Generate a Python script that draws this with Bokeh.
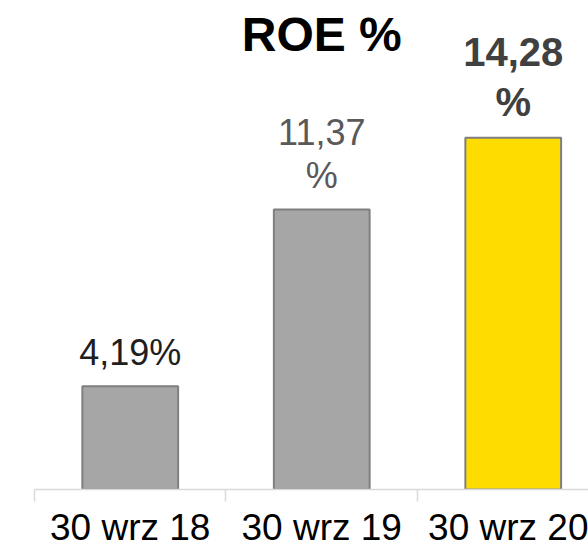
from bokeh.plotting import figure
from bokeh.models import Range1d, FixedTicker, Label
from bokeh.core.properties import value
from bokeh.embed import file_html
from bokeh.resources import INLINE

# data
categories = ["30 wrz 18", "30 wrz 19", "30 wrz 20"]
roe = [4.19, 11.37, 14.28]
bar_labels = ["4,19%", "11,37\n%", "14,28\n%"]
bar_colors = ["#a6a6a6", "#a6a6a6", "#ffdc00"]
label_colors = ["#1e1e1e", "#595959", "#404040"]
title_text = "ROE %"

FONT = "Liberation Sans"

xs = list(range(len(categories)))

p = figure(width=588, height=550, output_backend="svg", toolbar_location=None,
           x_range=Range1d(-0.6775, 2.393), y_range=Range1d(0, 19.85),
           min_border_left=0, min_border_right=0, min_border_top=0,
           min_border_bottom=0)
p.outline_line_color = None
p.background_fill_color = "white"
p.border_fill_color = "white"
p.grid.visible = False
p.yaxis.visible = False

ax = p.xaxis[0]
ax.ticker = FixedTicker(ticks=xs, minor_ticks=[x - 0.5 for x in xs] + [xs[-1] + 0.5])
ax.major_label_overrides = {i: c for i, c in zip(xs, categories)}
ax.bounds = (xs[0] - 0.5, xs[-1] + 0.5)
ax.axis_line_color = "#d9d9d9"
ax.axis_line_width = 1.5
ax.major_tick_line_color = None
ax.major_tick_out = 0
ax.major_tick_in = 0
ax.minor_tick_line_color = "#d9d9d9"
ax.minor_tick_line_width = 1.5
ax.minor_tick_out = 12
ax.minor_tick_in = 0
ax.major_label_standoff = 5
ax.major_label_text_font = FONT
ax.major_label_text_font_size = "37px"
ax.major_label_text_color = "#000000"

p.vbar(x=xs, top=roe, width=0.5, bottom=0, fill_color=bar_colors,
       line_color="#7f7f7f", line_width=2)

p.text(x=xs[:2], y=roe[:2], text=bar_labels[:2], text_align="center",
       text_baseline="bottom", y_offset=-13, text_color=label_colors[:2],
       text_font=value(FONT), text_font_size="36px", text_line_height=1.05)
p.text(x=xs[2:], y=roe[2:], text=bar_labels[2:], text_align="center",
       text_baseline="bottom", y_offset=-14, text_color=label_colors[2:],
       text_font=value(FONT), text_font_size="40px", text_font_style="bold",
       text_line_height=1.12)

p.add_layout(Label(x=xs[1], y=18.45, text=title_text, text_align="center",
                   text_baseline="middle", text_font=FONT, text_font_size="48px",
                   text_font_style="bold", text_color="#000000"))

open("out.html", "w").write(file_html(p, INLINE))
